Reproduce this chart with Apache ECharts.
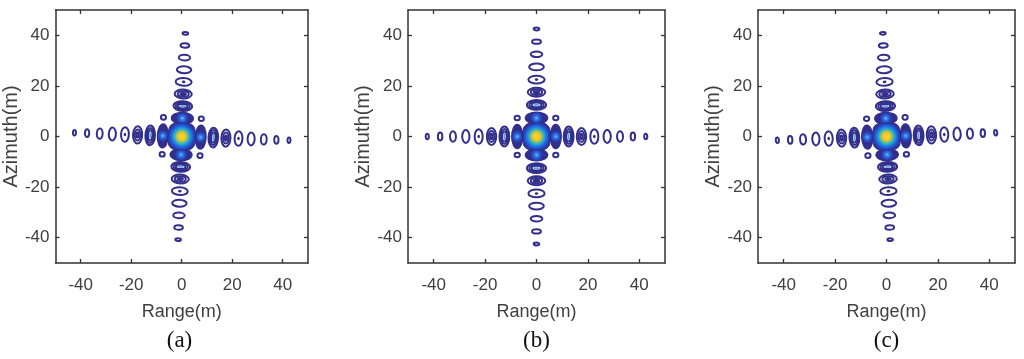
<!DOCTYPE html>
<html><head><meta charset="utf-8">
<script src="https://cdn.jsdelivr.net/npm/echarts@6/dist/echarts.min.js"></script>
<style>html,body{margin:0;padding:0;background:#fff}#c{width:1024px;height:359px}</style>
</head><body><div id="c"></div>
<script>
// ---------- data ----------
const panelLabels = ['(a)', '(b)', '(c)'];
const tickValues = [-40, -20, 0, 20, 40];
const axisMin = -50, axisMax = 50;
const xAxisName = 'Range(m)';
const yAxisName = 'Azimuth(m)';
// small rotation of the whole response in each panel (degrees, counter-clockwise)
const panelTiltDeg = [-2.0, 0, 2.0];

// range (horizontal) sidelobes, metres
const rangeLobeX = [-42.5, -37.5, -32.5, -27.5, -22.5, -17.5, -12.5, -7.5, 7.5, 12.5, 17.5, 22.5, 27.5, 32.5, 37.5, 42.5];
const rangeLobeW = [2.0, 2.5, 3.1, 3.6, 3.9, 4.4, 4.6, 4.8, 4.8, 4.6, 4.4, 3.9, 3.6, 3.1, 2.5, 2.0];
const rangeLobeH = [3.0, 3.9, 4.9, 5.9, 6.6, 7.6, 8.6, 10.0, 10.0, 8.6, 7.6, 6.6, 5.9, 4.9, 3.9, 3.0];
// contour rings per lobe (0 = densely filled lobe)
const rangeLobeRings = [1, 1, 1, 1, 2, 3, 4, 0, 0, 4, 3, 2, 1, 1, 1, 1];

// azimuth (vertical) sidelobes, metres, per panel
const azLobeY_a = [-40.8, -36.0, -31.2, -26.4, -21.6, -16.8, -12.0, -7.2, 7.2, 12.0, 16.8, 21.6, 26.4, 31.2, 36.0, 40.8];
const azLobeY_b = [-42.5, -37.5, -32.5, -27.5, -22.5, -17.5, -12.5, -7.3, 7.3, 12.5, 17.5, 22.5, 27.5, 32.5, 37.5, 42.5];
const azLobeY_c = [-40.8, -36.0, -31.2, -26.4, -21.6, -16.8, -12.0, -7.2, 7.2, 12.0, 16.8, 21.6, 26.4, 31.2, 36.0, 40.8];
const azLobeW = [3.0, 4.2, 5.3, 6.5, 7.1, 7.6, 8.2, 9.2, 9.2, 8.2, 7.6, 7.1, 6.5, 5.3, 4.2, 3.0];
const azLobeH = [1.9, 2.5, 3.0, 3.5, 3.9, 4.3, 4.6, 5.2, 5.2, 4.6, 4.3, 3.9, 3.5, 3.0, 2.5, 1.9];
const azLobeRings = [1, 1, 1, 1, 2, 3, 4, 0, 0, 4, 3, 2, 1, 1, 1, 1];

// diagonal lobes
const cornerX = [-7.5, 7.5, -7.5, 7.5];
const cornerY = [7.3, 7.3, -7.3, -7.3];
const cornerW = [2.8, 2.8, 2.8, 2.8];
const cornerH = [2.6, 2.6, 2.6, 2.6];

// main lobe
const mainLobeW = 10.6;
const mainLobeH = 10.6;

const azLobeY = [azLobeY_a, azLobeY_b, azLobeY_c];

// ---------- build ----------
const ringColor = '#322f8c';
const MAIN = -1;

function panelData(p) {
  const d = [];
  rangeLobeX.forEach((x, i) => d.push([x, 0, rangeLobeW[i], rangeLobeH[i], rangeLobeRings[i]]));
  azLobeY[p].forEach((y, i) => d.push([0, y, azLobeW[i], azLobeH[i], azLobeRings[i]]));
  cornerX.forEach((x, i) => d.push([x, cornerY[i], cornerW[i], cornerH[i], 1]));
  d.push([0, 0, mainLobeW, mainLobeH, MAIN]);
  return d;
}

const mainGrad = new echarts.graphic.RadialGradient(0.5, 0.5, 0.6, [
  { offset: 0, color: '#fbd822' },
  { offset: 0.2, color: '#f5c62f' },
  { offset: 0.31, color: '#b4c24c' },
  { offset: 0.4, color: '#4cb6a8' },
  { offset: 0.5, color: '#1f9fd9' },
  { offset: 0.61, color: '#1f70de' },
  { offset: 0.72, color: '#2250d0' },
  { offset: 0.8, color: '#2c3aa6' },
  { offset: 1, color: '#322f8c' }
]);
const lobeGrad = new echarts.graphic.RadialGradient(0.5, 0.5, 0.5, [
  { offset: 0, color: '#73bdf2' },
  { offset: 0.25, color: '#3a86e2' },
  { offset: 0.55, color: '#2458d4' },
  { offset: 0.82, color: '#2c3ca8' },
  { offset: 1, color: '#322f8c' }
]);
const ringScales = { 1: [1], 2: [1], 3: [1, 0.68, 0.38], 4: [1, 0.78, 0.56] };

function makeRender(p) {
  const t = panelTiltDeg[p] * Math.PI / 180;
  return function (params, api) {
    const x = api.value(0), y = api.value(1), w = api.value(2), h = api.value(3), kind = api.value(4);
    const px = x * Math.cos(t) - y * Math.sin(t);
    const py = x * Math.sin(t) + y * Math.cos(t);
    const c = api.coord([px, py]);
    const s = api.size([w, h]);
    const hw = s[0] / 2, hh = s[1] / 2;
    const ch = [];
    const lw = 2.0;
    if (kind === MAIN) {
      ch.push({ type: 'rect', shape: { x: -hw, y: -hh, width: 2 * hw, height: 2 * hh, r: Math.min(hw, hh) * 0.6 },
        style: { fill: mainGrad, stroke: ringColor, lineWidth: 1 } });
    } else if (kind === 0) {
      ch.push({ type: 'ellipse', shape: { cx: 0, cy: 0, rx: hw - 0.7, ry: hh - 0.7 },
        style: { fill: lobeGrad, stroke: ringColor, lineWidth: 1.4 } });
    } else {
      ringScales[kind].forEach(sc => {
        ch.push({ type: 'ellipse', shape: { cx: 0, cy: 0, rx: Math.max(0.7, hw * sc - lw / 2), ry: Math.max(0.7, hh * sc - lw / 2) },
          style: { fill: null, stroke: ringColor, lineWidth: lw } });
      });
      if (kind === 2) {
        ch.push({ type: 'ellipse', shape: { cx: 0, cy: 0, rx: Math.max(1.3, hw * 0.2), ry: Math.max(1.3, hh * 0.2) },
          style: { fill: ringColor } });
      }
      if (kind === 4) {
        const long = hw > hh;
        ch.push({ type: 'ellipse', shape: { cx: 0, cy: 0, rx: long ? hw * 0.32 : 0.9, ry: long ? 0.9 : hh * 0.32 },
          style: { fill: '#5aa0e6' } });
      }
    }
    return { type: 'group', x: c[0], y: c[1], rotation: t, children: ch };
  };
}

const gridLefts = [51, 408, 758];
const axisColor = '#333';
const labelFont = '"Liberation Sans Narrow", "Liberation Sans", Arial, sans-serif';

const grids = [], xAxes = [], yAxes = [], series = [], graphics = [];
gridLefts.forEach((left, p) => {
  grids.push({ left: left, top: 10, width: 257, height: 253, containLabel: false });
  const common = {
    gridIndex: p, type: 'value', min: axisMin, max: axisMax,
    axisLine: { show: true, onZero: false, lineStyle: { color: axisColor, width: 1.5 } },
    axisTick: { show: true, inside: true, length: 4, customValues: tickValues, lineStyle: { color: axisColor, width: 1.3 } },
    splitLine: { show: false }
  };
  xAxes.push(Object.assign({}, common, {
    position: 'bottom',
    axisLabel: { show: true, customValues: tickValues, color: '#404040', fontSize: 17, fontFamily: labelFont, margin: 14 },
    name: xAxisName, nameLocation: 'middle', nameGap: 40,
    nameTextStyle: { color: '#404040', fontSize: 18, fontFamily: labelFont }
  }));
  xAxes.push(Object.assign({}, common, { position: 'top', axisLabel: { show: false } }));
  yAxes.push(Object.assign({}, common, {
    position: 'left',
    axisLabel: { show: true, customValues: tickValues, color: '#404040', fontSize: 17, fontFamily: labelFont, margin: 6 },
    name: yAxisName, nameLocation: 'middle', nameGap: 26, nameRotate: 90,
    nameTextStyle: { color: '#404040', fontSize: 20, fontFamily: '"Liberation Sans", Arial, sans-serif' }
  }));
  yAxes.push(Object.assign({}, common, { position: 'right', axisLabel: { show: false } }));
  series.push({
    type: 'custom', coordinateSystem: 'cartesian2d', xAxisIndex: 2 * p, yAxisIndex: 2 * p,
    renderItem: makeRender(p), data: panelData(p), silent: true, clip: true, animation: false
  });
  graphics.push({
    type: 'text', x: left + 128.5, y: 341,
    style: { text: panelLabels[p], font: '23px "Liberation Serif", "Times New Roman", serif', fill: '#111', textAlign: 'center', textVerticalAlign: 'middle' }
  });
});

const chart = echarts.init(document.getElementById('c'), null, { renderer: 'canvas' });
chart.setOption({
  backgroundColor: '#fff',
  animation: false,
  grid: grids, xAxis: xAxes, yAxis: yAxes, series: series, graphic: graphics
});
</script>
</body></html>
